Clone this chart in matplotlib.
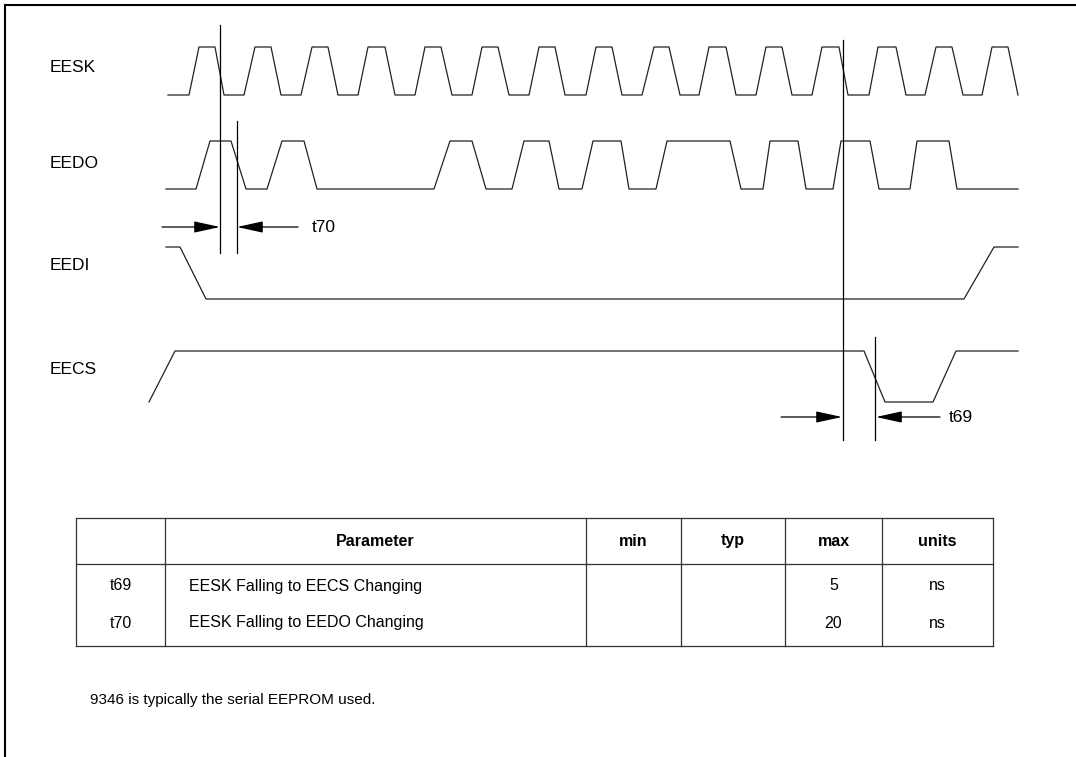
import matplotlib
matplotlib.use("Agg")
import matplotlib.pyplot as plt

plt.rcParams['font.family'] = ['Liberation Sans', 'DejaVu Sans']

# signal names, label rows and levels (high, low)
signals = ["EESK", "EEDO", "EEDI", "EECS"]
label_y = [68, 163, 265, 370]
levels = {"EESK": (47, 95), "EEDO": (141, 189), "EEDI": (247, 299), "EECS": (351, 402)}

# each signal: start x, end x, start level (1=high), edges as (start, end)
eesk_start, eesk_end, eesk_init = 168, 1018, 0
eesk_edges = [(189, 199), (215, 224), (244, 255), (271, 281), (301, 312), (328, 338),
              (358, 368), (385, 395), (415, 425), (441, 452), (472, 482), (498, 509),
              (529, 539), (555, 565), (586, 596), (612, 622), (642, 654), (669, 680),
              (699, 709), (726, 736), (756, 766), (782, 792), (812, 822), (839, 848),
              (869, 878), (896, 906), (925, 936), (952, 963), (982, 992), (1008, 1018)]

eedo_start, eedo_end, eedo_init = 166, 1018, 0
eedo_edges = [(196, 210), (231, 246), (267, 282), (304, 317), (434, 450), (472, 486),
              (512, 524), (549, 559), (582, 593), (621, 629), (656, 667), (730, 741),
              (763, 770), (798, 806), (833, 841), (870, 879), (910, 917), (949, 957)]

eedi_start, eedi_end, eedi_init = 166, 1018, 1
eedi_edges = [(180, 206), (964, 994)]

eecs_start, eecs_end, eecs_init = 149, 1018, 0
eecs_edges = [(149, 175), (864, 885), (933, 956)]

# timing markers: vertical lines (x, y_top, y_bottom)
t70_lines = [(220, 25, 253), (237, 121, 253)]
t69_lines = [(843, 40, 440), (875, 337, 440)]
t70_arrow = {"y": 227, "left": (162, 220), "right": (237, 298), "label": "t70", "lx": 312}
t69_arrow = {"y": 417, "left": (781, 842), "right": (876, 940), "label": "t69", "lx": 949}

# table
col_edges = [76, 165, 586, 681, 785, 882, 993]
row_edges = [518, 564, 646]
header = ["", "Parameter", "min", "typ", "max", "units"]
sym = ["t69", "t70"]
param = ["EESK Falling to EECS Changing", "EESK Falling to EEDO Changing"]
vmin = ["", ""]
vtyp = ["", ""]
vmax = ["5", "20"]
units = ["ns", "ns"]
row_y = [586, 623]
note = "9346 is typically the serial EEPROM used."


def wave(x0, x1, init, edges, hi, lo):
    lvl = init
    y = lambda l: hi if l else lo
    xs, ys = [x0], [y(lvl)]
    for a, b in edges:
        if a > x0:
            xs.append(a); ys.append(y(lvl))
        lvl = 1 - lvl
        xs.append(b); ys.append(y(lvl))
    if xs[-1] < x1:
        xs.append(x1); ys.append(y(lvl))
    return xs, ys


fig = plt.figure(figsize=(10.76, 7.57), dpi=100)
ax = fig.add_axes([0, 0, 1, 1])
ax.set_xlim(0, 1076)
ax.set_ylim(757, 0)
ax.axis("off")

# frame (top and left)
ax.plot([5, 1076], [5, 5], color="black", lw=1.5)
ax.plot([5, 5], [5, 757], color="black", lw=1.5)

fs = 11.5
fs_lab = 12.5
wc = "#222222"
data = {
    "EESK": (eesk_start, eesk_end, eesk_init, eesk_edges),
    "EEDO": (eedo_start, eedo_end, eedo_init, eedo_edges),
    "EEDI": (eedi_start, eedi_end, eedi_init, eedi_edges),
    "EECS": (eecs_start, eecs_end, eecs_init, eecs_edges),
}
for name, ly in zip(signals, label_y):
    hi, lo = levels[name]
    x0, x1, init, edges = data[name]
    xs, ys = wave(x0, x1, init, edges, hi, lo)
    ax.plot(xs, ys, color=wc, lw=0.9)
    ax.text(50, ly, name, fontsize=fs_lab, va="center", ha="left")

for x, y0, y1 in t70_lines + t69_lines:
    ax.plot([x, x], [y0, y1], color="black", lw=0.9)

for arr in (t70_arrow, t69_arrow):
    y = arr["y"]
    l0, l1 = arr["left"]
    r0, r1 = arr["right"]
    ax.annotate("", xy=(l1, y), xytext=(l0, y),
                arrowprops=dict(arrowstyle="-|>,head_length=1.6,head_width=0.35",
                                color="black", lw=0.9, shrinkA=0, shrinkB=0))
    ax.annotate("", xy=(r0, y), xytext=(r1, y),
                arrowprops=dict(arrowstyle="-|>,head_length=1.6,head_width=0.35",
                                color="black", lw=0.9, shrinkA=0, shrinkB=0))
    ax.text(arr["lx"], y, arr["label"], fontsize=fs_lab, va="center", ha="left")

# table lines
tc = "#333333"
for x in col_edges:
    ax.plot([x, x], [row_edges[0], row_edges[-1]], color=tc, lw=0.9)
for y in row_edges:
    ax.plot([col_edges[0], col_edges[-1]], [y, y], color=tc, lw=0.9)

hy = (row_edges[0] + row_edges[1]) / 2
for i, h in enumerate(header):
    cx = (col_edges[i] + col_edges[i + 1]) / 2
    ax.text(cx, hy, h, fontsize=fs, fontweight="bold", ha="center", va="center")

for r in range(len(sym)):
    y = row_y[r]
    cols = [sym[r], param[r], vmin[r], vtyp[r], vmax[r], units[r]]
    for i, v in enumerate(cols):
        if i == 1:
            ax.text(col_edges[1] + 24, y, v, fontsize=fs, ha="left", va="center")
        else:
            cx = (col_edges[i] + col_edges[i + 1]) / 2
            ax.text(cx, y, v, fontsize=fs, ha="center", va="center")

ax.text(90, 700, note, fontsize=11, ha="left", va="center")

fig.savefig("out.png", dpi=100)
